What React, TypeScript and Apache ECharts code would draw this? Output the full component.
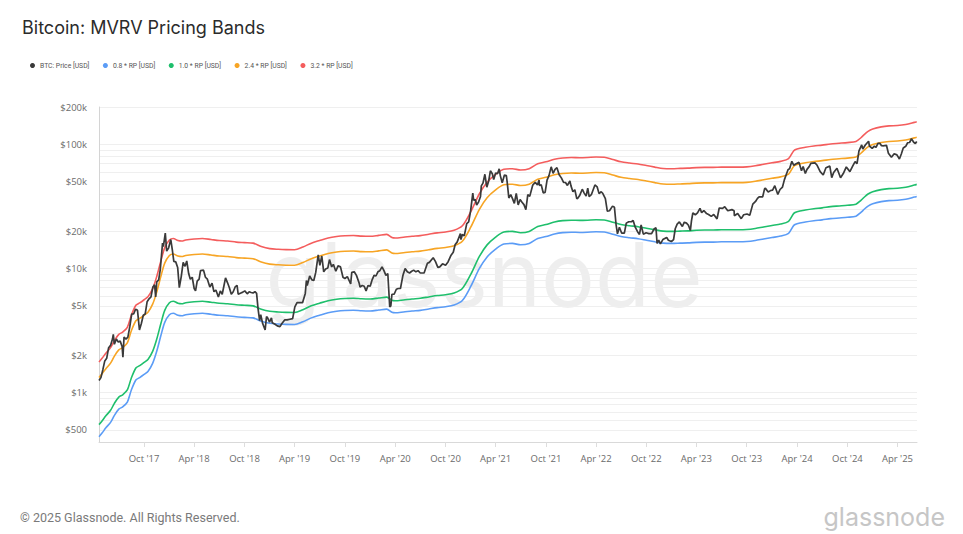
import React, { useEffect, useRef } from "react";
import * as echarts from "echarts";

const chartTitle = "Bitcoin: MVRV Pricing Bands";
const seriesNames = ["BTC: Price [USD]", "0.8 * RP [USD]", "1.0 * RP [USD]", "2.4 * RP [USD]", "3.2 * RP [USD]"];
const bandMultipliers = [0.8, 1.0, 2.4, 3.2];
const seriesColors = ["#3a3a3a", "#5b9cf6", "#1fbf6c", "#f7a525", "#f45d5d"];

// Realized price (USD)
const rpDates = [
  "2017-04-20", "2017-05-01", "2017-05-15", "2017-06-01", "2017-06-15", "2017-07-01", "2017-07-15", "2017-08-01",
  "2017-08-15", "2017-09-01", "2017-09-15", "2017-10-01", "2017-10-15", "2017-11-01", "2017-11-15", "2017-12-01",
  "2017-12-15", "2018-01-01", "2018-01-15", "2018-02-01", "2018-02-15", "2018-03-01", "2018-04-01", "2018-05-01",
  "2018-06-01", "2018-07-01", "2018-08-01", "2018-09-01", "2018-10-01", "2018-11-01", "2018-12-01", "2019-01-01",
  "2019-02-01", "2019-03-01", "2019-04-01", "2019-05-01", "2019-06-01", "2019-07-01", "2019-08-01", "2019-09-01",
  "2019-10-01", "2019-11-01", "2019-12-01", "2020-01-01", "2020-02-01", "2020-03-01", "2020-03-20", "2020-04-01",
  "2020-05-01", "2020-06-01", "2020-07-01", "2020-08-01", "2020-09-01", "2020-10-01", "2020-11-01", "2020-12-01",
  "2021-01-01", "2021-02-01", "2021-03-01", "2021-04-01", "2021-05-01", "2021-06-01", "2021-07-01", "2021-08-01",
  "2021-09-01", "2021-10-01", "2021-11-01", "2021-12-01", "2022-01-01", "2022-02-01", "2022-03-01", "2022-04-01",
  "2022-05-01", "2022-06-01", "2022-07-01", "2022-08-01", "2022-09-01", "2022-10-01", "2022-11-01", "2022-12-01",
  "2023-01-01", "2023-02-01", "2023-03-01", "2023-04-01", "2023-05-01", "2023-06-01", "2023-07-01", "2023-08-01",
  "2023-09-01", "2023-10-01", "2023-11-01", "2023-12-01", "2024-01-01", "2024-02-01", "2024-03-01", "2024-03-20",
  "2024-04-01", "2024-05-01", "2024-06-01", "2024-07-01", "2024-08-01", "2024-09-01", "2024-10-01", "2024-11-01",
  "2024-11-20", "2024-12-01", "2024-12-15", "2025-01-01", "2025-02-01", "2025-03-01", "2025-04-01", "2025-05-01",
  "2025-06-01", "2025-06-10",
];
const rpValues = [
  552, 590, 650, 720, 820, 920, 960, 1050,
  1300, 1580, 1650, 1750, 1850, 2150, 2650, 3600,
  4600, 5300, 5450, 5250, 5200, 5300, 5400, 5450,
  5350, 5250, 5200, 5100, 5050, 5000, 4700, 4520,
  4460, 4430, 4420, 4650, 5000, 5250, 5500, 5650,
  5730, 5760, 5700, 5680, 5780, 5880, 5550, 5500,
  5580, 5680, 5750, 5900, 6050, 6150, 6350, 6900,
  9000, 12500, 15500, 17900, 19700, 19900, 19400, 19900,
  21800, 22600, 23700, 24300, 24500, 24400, 24500, 24700,
  24600, 23600, 22600, 22100, 21700, 21100, 20500, 20000,
  19900, 20000, 20100, 20300, 20400, 20400, 20500, 20500,
  20500, 20600, 21000, 21600, 22200, 22800, 24000, 27800,
  28700, 29600, 30300, 30800, 31500, 31900, 32300, 33000,
  35500, 37500, 39800, 41500, 43200, 44000, 44300, 45200,
  47000, 47600,
];

// BTC price (USD), dates and closes kept as two parallel lists
const priceDates = [
  "2017-04-20", "2017-04-27", "2017-05-04", "2017-05-11", "2017-05-18", "2017-05-25", "2017-06-01", "2017-06-08",
  "2017-06-11", "2017-06-15", "2017-06-22", "2017-06-29", "2017-07-06", "2017-07-13", "2017-07-16", "2017-07-20",
  "2017-07-27", "2017-08-03", "2017-08-10", "2017-08-17", "2017-08-24", "2017-08-31", "2017-09-07", "2017-09-14",
  "2017-09-21", "2017-09-28", "2017-10-05", "2017-10-12", "2017-10-19", "2017-10-26", "2017-11-02", "2017-11-08",
  "2017-11-12", "2017-11-16", "2017-11-23", "2017-11-29", "2017-12-07", "2017-12-10", "2017-12-17", "2017-12-22",
  "2017-12-29", "2018-01-06", "2018-01-12", "2018-01-17", "2018-01-24", "2018-01-31", "2018-02-06", "2018-02-13",
  "2018-02-20", "2018-02-27", "2018-03-05", "2018-03-12", "2018-03-18", "2018-03-25", "2018-04-01", "2018-04-06",
  "2018-04-12", "2018-04-19", "2018-04-24", "2018-05-05", "2018-05-12", "2018-05-19", "2018-05-28", "2018-06-05",
  "2018-06-12", "2018-06-19", "2018-06-28", "2018-07-05", "2018-07-12", "2018-07-19", "2018-07-24", "2018-07-31",
  "2018-08-07", "2018-08-14", "2018-08-21", "2018-08-28", "2018-09-04", "2018-09-08", "2018-09-18", "2018-09-25",
  "2018-10-02", "2018-10-11", "2018-10-18", "2018-10-25", "2018-11-01", "2018-11-08", "2018-11-14", "2018-11-19",
  "2018-11-25", "2018-11-29", "2018-12-06", "2018-12-15", "2018-12-20", "2018-12-24", "2018-12-31", "2019-01-07",
  "2019-01-10", "2019-01-20", "2019-01-28", "2019-02-07", "2019-02-14", "2019-02-24", "2019-03-05", "2019-03-15",
  "2019-03-25", "2019-04-02", "2019-04-10", "2019-04-20", "2019-04-30", "2019-05-10", "2019-05-14", "2019-05-17",
  "2019-05-26", "2019-06-03", "2019-06-10", "2019-06-17", "2019-06-26", "2019-07-02", "2019-07-09", "2019-07-16",
  "2019-07-23", "2019-07-31", "2019-08-06", "2019-08-14", "2019-08-20", "2019-08-29", "2019-09-06", "2019-09-15",
  "2019-09-24", "2019-10-01", "2019-10-10", "2019-10-22", "2019-10-26", "2019-11-04", "2019-11-12", "2019-11-22",
  "2019-11-25", "2019-12-03", "2019-12-10", "2019-12-17", "2019-12-24", "2020-01-01", "2020-01-08", "2020-01-15",
  "2020-01-22", "2020-01-29", "2020-02-05", "2020-02-13", "2020-02-20", "2020-02-27", "2020-03-05", "2020-03-12",
  "2020-03-16", "2020-03-20", "2020-03-28", "2020-04-05", "2020-04-12", "2020-04-20", "2020-04-29", "2020-05-07",
  "2020-05-15", "2020-05-23", "2020-05-31", "2020-06-07", "2020-06-15", "2020-06-23", "2020-07-01", "2020-07-15",
  "2020-07-27", "2020-08-03", "2020-08-17", "2020-08-25", "2020-09-03", "2020-09-10", "2020-09-20", "2020-10-01",
  "2020-10-10", "2020-10-21", "2020-10-29", "2020-11-05", "2020-11-12", "2020-11-24", "2020-11-26", "2020-12-01",
  "2020-12-08", "2020-12-17", "2020-12-24", "2020-12-31", "2021-01-08", "2021-01-11", "2021-01-17", "2021-01-22",
  "2021-01-29", "2021-02-05", "2021-02-08", "2021-02-14", "2021-02-21", "2021-02-28", "2021-03-07", "2021-03-13",
  "2021-03-20", "2021-03-25", "2021-04-01", "2021-04-08", "2021-04-14", "2021-04-18", "2021-04-25", "2021-05-03",
  "2021-05-10", "2021-05-13", "2021-05-19", "2021-05-26", "2021-06-01", "2021-06-08", "2021-06-15", "2021-06-22",
  "2021-06-29", "2021-07-06", "2021-07-13", "2021-07-20", "2021-07-27", "2021-08-03", "2021-08-14", "2021-08-23",
  "2021-08-31", "2021-09-06", "2021-09-07", "2021-09-14", "2021-09-21", "2021-09-28", "2021-10-05", "2021-10-12",
  "2021-10-20", "2021-10-27", "2021-11-03", "2021-11-10", "2021-11-18", "2021-11-26", "2021-12-04", "2021-12-11",
  "2021-12-18", "2021-12-27", "2021-12-31", "2022-01-07", "2022-01-14", "2022-01-21", "2022-01-24", "2022-01-31",
  "2022-02-10", "2022-02-17", "2022-02-24", "2022-03-02", "2022-03-07", "2022-03-15", "2022-03-28", "2022-04-05",
  "2022-04-12", "2022-04-20", "2022-04-25", "2022-05-05", "2022-05-12", "2022-05-20", "2022-05-31", "2022-06-07",
  "2022-06-13", "2022-06-18", "2022-06-25", "2022-07-03", "2022-07-13", "2022-07-20", "2022-07-29", "2022-08-08",
  "2022-08-14", "2022-08-22", "2022-08-30", "2022-09-06", "2022-09-12", "2022-09-20", "2022-09-30", "2022-10-10",
  "2022-10-20", "2022-10-29", "2022-11-05", "2022-11-09", "2022-11-15", "2022-11-21", "2022-11-30", "2022-12-14",
  "2022-12-20", "2022-12-31", "2023-01-08", "2023-01-14", "2023-01-21", "2023-01-29", "2023-02-09", "2023-02-16",
  "2023-02-24", "2023-03-03", "2023-03-10", "2023-03-14", "2023-03-19", "2023-03-28", "2023-04-05", "2023-04-14",
  "2023-04-20", "2023-04-28", "2023-05-08", "2023-05-15", "2023-05-25", "2023-06-03", "2023-06-15", "2023-06-23",
  "2023-07-05", "2023-07-13", "2023-07-24", "2023-08-08", "2023-08-16", "2023-08-17", "2023-08-29", "2023-09-11",
  "2023-09-20", "2023-10-02", "2023-10-12", "2023-10-23", "2023-11-02", "2023-11-09", "2023-11-15", "2023-11-28",
  "2023-12-05", "2023-12-08", "2023-12-18", "2023-12-28", "2024-01-03", "2024-01-11", "2024-01-22", "2024-01-30",
  "2024-02-08", "2024-02-15", "2024-02-28", "2024-03-05", "2024-03-13", "2024-03-20", "2024-03-27", "2024-04-08",
  "2024-04-17", "2024-04-23", "2024-05-01", "2024-05-07", "2024-05-15", "2024-05-21", "2024-06-05", "2024-06-12",
  "2024-06-24", "2024-07-05", "2024-07-15", "2024-07-29", "2024-08-05", "2024-08-12", "2024-08-24", "2024-09-06",
  "2024-09-16", "2024-09-27", "2024-10-10", "2024-10-21", "2024-10-29", "2024-11-05", "2024-11-12", "2024-11-22",
  "2024-11-26", "2024-12-05", "2024-12-17", "2024-12-20", "2024-12-30", "2025-01-07", "2025-01-13", "2025-01-20",
  "2025-01-27", "2025-02-02", "2025-02-10", "2025-02-20", "2025-02-27", "2025-03-10", "2025-03-20", "2025-03-30",
  "2025-04-08", "2025-04-15", "2025-04-22", "2025-05-01", "2025-05-08", "2025-05-15", "2025-05-22", "2025-05-30",
  "2025-06-05", "2025-06-10",
];
const priceValues = [
  1250, 1320, 1530, 1800, 1890, 2300, 2400, 2700,
  2950, 2450, 2700, 2560, 2600, 2350, 1930, 2800,
  2700, 2800, 3400, 4300, 4300, 4700, 4600, 3200,
  3600, 4200, 4300, 5400, 5700, 5900, 7100, 7400,
  5900, 7800, 8100, 9900, 16000, 15000, 19300, 13800,
  14600, 17100, 13900, 11400, 11300, 10200, 7000, 8600,
  11200, 10400, 11500, 9100, 8200, 8500, 6900, 6600,
  7900, 8200, 9600, 9700, 8500, 8200, 7100, 7600,
  6500, 6700, 5900, 6600, 6200, 7400, 8400, 7700,
  7000, 6200, 6500, 7100, 7300, 6200, 6350, 6450,
  6600, 6250, 6500, 6400, 6350, 6500, 6300, 4800,
  3800, 4250, 3600, 3200, 4100, 4000, 3700, 4000,
  3650, 3550, 3450, 3400, 3600, 3850, 3850, 3900,
  3950, 4900, 5300, 5300, 5300, 6300, 8000, 7300,
  8700, 8100, 8000, 9300, 12900, 10600, 12600, 9400,
  9900, 10100, 11800, 10300, 10800, 9500, 10500, 10300,
  8500, 8300, 8600, 7500, 9300, 9400, 8800, 7600,
  7100, 7300, 7200, 6600, 7300, 7200, 8100, 8800,
  8700, 9400, 9600, 10300, 9600, 8800, 9100, 4900,
  5000, 6200, 6200, 6800, 6900, 6900, 8800, 10000,
  9400, 9200, 9500, 9700, 9400, 9600, 9200, 9200,
  11000, 11200, 12200, 11400, 10200, 10300, 10900, 10600,
  11300, 12800, 13500, 15600, 16300, 19100, 17100, 18800,
  18300, 23000, 23700, 29000, 40500, 35500, 36000, 32500,
  34300, 38000, 46300, 48700, 57400, 45200, 51000, 61200,
  58000, 52000, 58800, 58000, 63500, 56000, 49000, 56600,
  56000, 49700, 37000, 39300, 36700, 33500, 40200, 32500,
  36000, 34200, 32700, 29800, 39400, 38100, 47000, 49500,
  47100, 51700, 46800, 47100, 40700, 41000, 51500, 56000,
  65900, 58400, 62900, 64900, 56900, 53700, 49300, 49300,
  46700, 50700, 46300, 41500, 43100, 36500, 36700, 38500,
  43500, 40500, 38300, 44400, 38000, 39300, 47100, 45500,
  40100, 41500, 40400, 36500, 29000, 29200, 31800, 31100,
  22500, 19000, 21500, 19300, 19300, 23200, 23800, 23800,
  24400, 21400, 19800, 18800, 22400, 18900, 19400, 19100,
  19100, 20800, 21300, 15900, 16900, 15800, 17100, 17800,
  16900, 16500, 17100, 20900, 22800, 23700, 21800, 23600,
  23200, 22300, 20200, 24200, 28000, 27100, 28100, 30500,
  28200, 29300, 27700, 27200, 26300, 27200, 25100, 30700,
  30500, 31400, 29200, 29800, 29200, 26600, 27700, 25200,
  27100, 27500, 26800, 33000, 34700, 36700, 37800, 37800,
  44000, 44200, 41300, 42600, 42800, 46400, 39500, 43300,
  45300, 52000, 62500, 63800, 73000, 67800, 69400, 71600,
  61300, 66400, 58300, 62900, 66200, 70200, 71000, 68200,
  60300, 56700, 64800, 66800, 54000, 59300, 64200, 53900,
  58200, 65800, 60300, 67400, 72700, 70000, 88700, 98900,
  91900, 98700, 106000, 97000, 92800, 96900, 94500, 102000,
  102000, 97600, 97400, 98300, 84700, 78600, 84100, 82300,
  76300, 83600, 93500, 96500, 103000, 103500, 111000, 104000,
  101500, 105500,
];

const yLabelValues = [500, 1000, 2000, 5000, 10000, 20000, 50000, 100000, 200000];
const yGridValues = [
  400, 500, 600, 700, 800, 900, 1000, 2000, 3000, 4000, 5000, 6000, 7000, 8000, 9000,
  10000, 20000, 30000, 40000, 50000, 60000, 70000, 80000, 90000, 100000, 200000,
];
const xTickDates = [
  "2017-10-01", "2018-04-01", "2018-10-01", "2019-04-01", "2019-10-01", "2020-04-01", "2020-10-01", "2021-04-01",
  "2021-10-01", "2022-04-01", "2022-10-01", "2023-04-01", "2023-10-01", "2024-04-01", "2024-10-01", "2025-04-01",
];
const xStart = "2017-04-20";
const xEnd = "2025-06-11";
const yMin = 400;
const yMax = 200000;

const monthNames = ["Jan", "Feb", "Mar", "Apr", "May", "Jun", "Jul", "Aug", "Sep", "Oct", "Nov", "Dec"];
const ts = (d: string) => new Date(d + "T00:00:00Z").getTime();
const lg = (v: number) => Math.log10(v);

function fmtMoney(v: number): string {
  const r = Math.round(v);
  if (r >= 1000) return "$" + Math.round(r / 1000) + "k";
  return "$" + r;
}

export default function App() {
  const ref = useRef<HTMLDivElement>(null);
  useEffect(() => {
    if (!ref.current) return;
    const chart = echarts.init(ref.current, undefined, { renderer: "svg" });

    const priceSeries = {
      name: seriesNames[0],
      type: "line",
      data: priceDates.map((d, i) => [ts(d), lg(priceValues[i])]),
      showSymbol: false,
      symbol: "none",
      lineStyle: { color: seriesColors[0], width: 1.7 },
      itemStyle: { color: seriesColors[0] },
      z: 5,
    };
    const bandSeries = bandMultipliers.map((m, k) => ({
      name: seriesNames[k + 1],
      type: "line",
      data: rpDates.map((d, i) => [ts(d), lg(rpValues[i] * m)]),
      showSymbol: false,
      symbol: "none",
      smooth: 0.3,
      lineStyle: { color: seriesColors[k + 1], width: 1.6 },
      itemStyle: { color: seriesColors[k + 1] },
      z: 3,
    }));

    chart.setOption({
      animation: false,
      backgroundColor: "#ffffff",
      title: {
        text: chartTitle,
        left: 17,
        top: 13,
        textStyle: { fontFamily: "Inter", fontSize: 18, fontWeight: 400, color: "#2b2b2b" },
      },
      legend: {
        left: 25,
        top: 57,
        icon: "circle",
        itemWidth: 5,
        itemHeight: 5,
        itemGap: 13.5,
        data: seriesNames,
        textStyle: { fontFamily: "Roboto", fontSize: 6.8, color: "#555" },
      },
      graphic: [
        {
          type: "text",
          x: 484,
          y: 274,
          z: 0,
          silent: true,
          style: {
            text: "glassnode",
            fill: "rgba(0,0,0,0.065)",
            font: "400 90px Inter",
            textAlign: "center",
            textVerticalAlign: "middle",
          },
        },
        {
          type: "text",
          x: 20,
          y: 517,
          silent: true,
          style: {
            text: "\u00a9 2025 Glassnode. All Rights Reserved.",
            fill: "#7a7a7a",
            font: "12.5px Roboto",
            textVerticalAlign: "middle",
          },
        },
        {
          type: "text",
          x: 945,
          y: 517,
          silent: true,
          style: {
            text: "glassnode",
            fill: "#c6c6c6",
            font: "25px Inter",
            textAlign: "right",
            textVerticalAlign: "middle",
          },
        },
      ],
      grid: { left: 99, right: 46, top: 107, bottom: 92, containLabel: false },
      xAxis: {
        type: "value",
        min: ts(xStart),
        max: ts(xEnd),
        axisLine: { show: true, lineStyle: { color: "#d9d9d9", width: 1 } },
        axisTick: {
          show: true,
          length: 5,
          lineStyle: { color: "#dddddd" },
          customValues: xTickDates.map(ts),
        },
        axisLabel: {
          customValues: xTickDates.map(ts),
          margin: 11,
          fontFamily: "Open Sans",
          fontSize: 9.5,
          color: "#6b6b6b",
          formatter: (v: number) => {
            const d = new Date(v);
            return monthNames[d.getUTCMonth()] + " '" + String(d.getUTCFullYear()).slice(2);
          },
        },
        splitLine: { show: false },
      },
      yAxis: {
        type: "value",
        min: lg(yMin),
        max: lg(yMax),
        axisLine: { show: true, lineStyle: { color: "#d4d4d4", width: 1 } },
        axisTick: { show: false, customValues: yGridValues.map(lg) },
        axisLabel: {
          customValues: yLabelValues.map(lg),
          margin: 12,
          fontFamily: "Open Sans",
          fontSize: 9.5,
          color: "#6b6b6b",
          formatter: (v: number) => fmtMoney(Math.pow(10, v)),
        },
        splitLine: { show: true, lineStyle: { color: "#efefef", width: 1 } },
      },
      series: [priceSeries, ...bandSeries],
    });
    return () => chart.dispose();
  }, []);
  return <div ref={ref} style={{ position: "absolute", left: 0, top: 0, width: 963, height: 534 }} />;
}
